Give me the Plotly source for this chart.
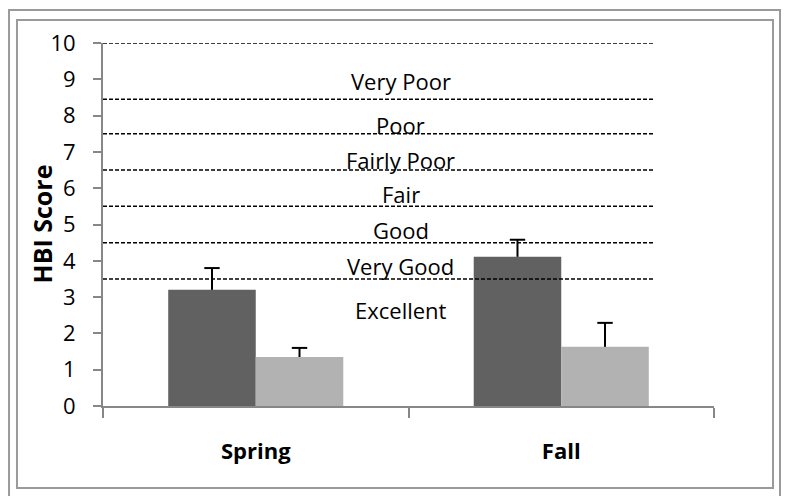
import plotly.graph_objects as go

# ---- data ----
seasons = ["Spring", "Fall"]
series_a = [3.2, 4.11]          # dark bars
series_a_err = [0.6, 0.47]
series_b = [1.35, 1.63]         # light bars
series_b_err = [0.25, 0.66]

band_lines = [10, 8.45, 7.5, 6.5, 5.5, 4.5, 3.5]
band_labels = ["Very Poor", "Poor", "Fairly Poor", "Fair", "Good", "Very Good", "Excellent"]
band_label_y = [8.94, 7.74, 6.79, 5.83, 4.85, 3.87, 2.64]

y_ticks = list(range(0, 11))

FONT = "Open Sans"
BARGAP = 0.427
fig = go.Figure()
fig.add_trace(go.Bar(x=seasons, y=series_a, marker=dict(color="#616161", line=dict(width=0)),
                     showlegend=False))
fig.add_trace(go.Bar(x=seasons, y=series_b, marker=dict(color="#b2b2b2", line=dict(width=0)),
                     showlegend=False))

# one-sided (plus only) error bars on an overlaid numeric axis aligned with the categories
half = (1 - BARGAP) / 4
for vals, errs, off in [(series_a, series_a_err, -half), (series_b, series_b_err, half)]:
    xs, ys, cx, cy = [], [], [], []
    for i, (v, e) in enumerate(zip(vals, errs)):
        xs += [i + off, i + off, None]
        ys += [v, v + e, None]
        cx.append(i + off)
        cy.append(v + e)
    fig.add_trace(go.Scatter(x=xs, y=ys, xaxis="x2", yaxis="y", mode="lines",
                             line=dict(color="black", width=2), showlegend=False,
                             hoverinfo="skip"))
    fig.add_trace(go.Scatter(x=cx, y=cy, xaxis="x2", yaxis="y", mode="markers",
                             marker=dict(symbol="line-ew", size=11,
                                         line=dict(color="black", width=2)),
                             showlegend=False, hoverinfo="skip"))

shapes = []
for v in band_lines:
    shapes.append(dict(type="line", xref="x domain", yref="y", x0=0, x1=0.902, y0=v, y1=v,
                       line=dict(color="black", width=1.5, dash="4px,2px"), layer="above"))
# borders
shapes.append(dict(type="rect", xref="paper", yref="paper", x0=-0.1538, x1=1.108,
                   y0=-0.26, y1=1.0909, line=dict(color="#9a9a9a", width=2)))
shapes.append(dict(type="rect", xref="paper", yref="paper", x0=-0.1408, x1=1.0966,
                   y0=-0.2259, y1=1.0634, line=dict(color="#9a9a9a", width=2)))

annotations = []
for t, yy in zip(band_labels, band_label_y):
    annotations.append(dict(text=t, x=0.4877, xref="paper", y=yy, yref="y",
                            xanchor="center", yanchor="middle", showarrow=False,
                            font=dict(family=FONT, size=22, color="black")))
annotations.append(dict(text="<b>HBI Score</b>", x=0, xref="paper", xshift=-62,
                        y=0.5, yref="paper", textangle=-90, showarrow=False,
                        xanchor="center", yanchor="middle",
                        font=dict(family=FONT, size=25, color="black")))

fig.update_layout(
    width=781, height=488,
    margin=dict(l=95, r=75, t=35, b=90),
    paper_bgcolor="white", plot_bgcolor="white",
    barmode="group", bargap=BARGAP, bargroupgap=0,
    shapes=shapes, annotations=annotations,
    font=dict(family=FONT, size=22, color="black"),
    xaxis=dict(
        type="category", showline=True, linecolor="#878787", linewidth=2,
        ticks="outside", tickson="boundaries", ticklen=10, tickcolor="#878787", tickwidth=2,
        showgrid=False, tickfont=dict(family=FONT, size=22, color="black", weight="bold"),
        ticklabelstandoff=25,
    ),
    xaxis2=dict(overlaying="x", anchor="y", type="linear",
                range=[-0.5, len(seasons) - 0.5], visible=False,
                showgrid=False, zeroline=False, showticklabels=False),
    yaxis=dict(
        range=[0, 10], tickvals=y_ticks, showline=True, linecolor="#878787", linewidth=2,
        ticks="outside", ticklen=8, tickcolor="#878787", tickwidth=2,
        showgrid=False, zeroline=False, tickfont=dict(family=FONT, size=22, color="black"),
        ticklabelstandoff=13,
    ),
)
fig.write_html("out.html")
